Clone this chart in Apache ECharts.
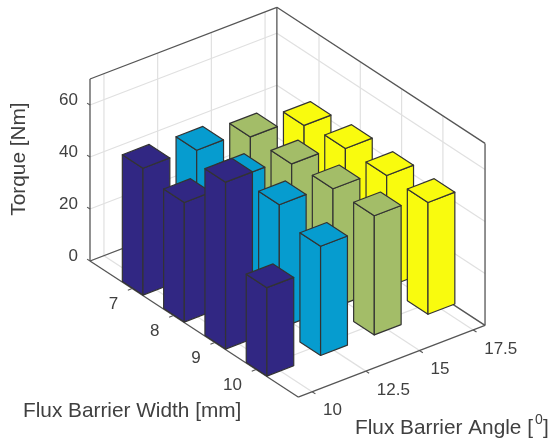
<!DOCTYPE html>
<html><head><meta charset="utf-8">
<style>html,body{margin:0;padding:0;background:#fff}#c{width:551px;height:443px}</style>
<script src="https://cdn.jsdelivr.net/npm/echarts@6/dist/echarts.min.js"></script>
</head><body><div id="c"></div>
<script>
var widths = [7, 8, 9, 10];
var angles = [10, 12.5, 15, 17.5];
var torqueTicks = [0, 20, 40, 60];
var angleLabels = ['10', '12.5', '15', '17.5'];
var torque10 = [48.8, 46, 64.2, 34];
var torque125 = [47.8, 47.7, 47.6, 42];
var torque15 = [45, 45, 45.8, 45.8];
var torque175 = [41.5, 43, 43, 43];
var barColors = ['#312783', '#069ccf', '#a3bd68', '#f9fb0e'];

var wLim = [5.98, 11.02], aLim = [9.35, 18.05], zLim = [0, 70];
var barW = 0.5, barA = 1.25;
// view projection of the 3D box onto the page
var O = [90, 261], vW = [41.3, 27], vA = [21.48, -8.24], vZ = [0, -2.6];
function P(w, a, t) {
  return [O[0] + (w - wLim[0]) * vW[0] + (a - aLim[0]) * vA[0] + t * vZ[0],
          O[1] + (w - wLim[0]) * vW[1] + (a - aLim[0]) * vA[1] + t * vZ[1]];
}
var TXT = '#404040', FONT = '"Liberation Sans", Arial, sans-serif', FS = 17, TS = 20.8;
var GRID = '#e0e0e0', BOX = '#555555', EDGE = '#333333';

var allT = [torque10, torque125, torque15, torque175];
var barData = [];
widths.forEach(function (w, i) {
  angles.forEach(function (a, j) {
    barData.push([w, a, allT[j][i], j, i - j]);
  });
});
barData.sort(function (p, q) { return p[4] - q[4]; });

function seg(api, a, b, color, width) {
  var p = api.coord(a), q = api.coord(b);
  return { type: 'line', shape: { x1: p[0], y1: p[1], x2: q[0], y2: q[1] }, style: { stroke: color, lineWidth: width } };
}
function poly(api, pts, fill) {
  return { type: 'polygon', shape: { points: pts.map(function (p) { return api.coord(p); }) },
    style: { fill: fill, stroke: EDGE, lineWidth: 1.2, lineJoin: 'round' } };
}
function label(api, pt, dx, dy, text, align) {
  var p = api.coord(pt);
  return { type: 'text', x: p[0] + dx, y: p[1] + dy,
    style: { text: text, fill: TXT, font: FS + 'px ' + FONT, align: align, verticalAlign: 'middle' } };
}
function title(api, at, text, size, align, rot) {
  var p = api.coord(at);
  return { type: 'text', x: p[0], y: p[1], rotation: rot || 0,
    style: { text: text, fill: TXT, font: size + 'px ' + FONT, align: align, verticalAlign: 'middle' } };
}

function renderFrame(params, api) {
  var kids = [], w0 = wLim[0], w1 = wLim[1], a0 = aLim[0], a1 = aLim[1], z1 = zLim[1];
  torqueTicks.forEach(function (t) {
    kids.push(seg(api, P(w0, a0, t), P(w0, a1, t), GRID, 1.2));
    kids.push(seg(api, P(w0, a1, t), P(w1, a1, t), GRID, 1.2));
  });
  widths.forEach(function (w) {
    kids.push(seg(api, P(w, a0, 0), P(w, a1, 0), GRID, 1.2));
    kids.push(seg(api, P(w, a1, 0), P(w, a1, z1), GRID, 1.2));
  });
  angles.forEach(function (a) {
    kids.push(seg(api, P(w0, a, 0), P(w1, a, 0), GRID, 1.2));
    kids.push(seg(api, P(w0, a, 0), P(w0, a, z1), GRID, 1.2));
  });
  [[[w0,a0,z1],[w0,a1,z1]], [[w0,a1,z1],[w1,a1,z1]], [[w0,a0,0],[w0,a0,z1]], [[w0,a1,0],[w0,a1,z1]],
   [[w1,a1,0],[w1,a1,z1]], [[w0,a0,0],[w1,a0,0]], [[w1,a0,0],[w1,a1,0]], [[w0,a0,0],[w0,a1,0]], [[w0,a1,0],[w1,a1,0]]
  ].forEach(function (e) { kids.push(seg(api, P(e[0][0], e[0][1], e[0][2]), P(e[1][0], e[1][1], e[1][2]), BOX, 1.3)); });
  torqueTicks.forEach(function (t) {
    kids.push(seg(api, P(w0, a0, t), P(w0 - 0.07, a0, t), BOX, 1.1));
    kids.push(label(api, P(w0, a0, t), -12, -5, String(t), 'right'));
  });
  widths.forEach(function (w) {
    kids.push(seg(api, P(w, a0, 0), P(w, a0 - 0.2, 0), BOX, 1.1));
    kids.push(label(api, P(w, a0, 0), -14, 16, String(w), 'right'));
  });
  angles.forEach(function (a, k) {
    kids.push(seg(api, P(w1, a, 0), P(w1 + 0.08, a, 0), BOX, 1.1));
    kids.push(label(api, P(w1, a, 0), 11, 19, angleLabels[k], 'left'));
  });
  kids.push(title(api, [23, 411], 'Flux Barrier Width [mm]', TS, 'left'));
  kids.push(title(api, [355, 428], 'Flux Barrier Angle [', TS, 'left'));
  kids.push(title(api, [539, 420], '0', 14, 'center'));
  kids.push(title(api, [543, 428], ']', TS, 'left'));
  kids.push(title(api, [19, 159], 'Torque [Nm]', TS, 'center', Math.PI / 2));
  return { type: 'group', children: kids };
}

function renderBar(params, api) {
  var w = api.value(0), a = api.value(1), t = api.value(2), col = barColors[api.value(3)];
  var wl = w - barW / 2, wh = w + barW / 2, al = a - barA / 2, ah = a + barA / 2;
  return { type: 'group', children: [
    poly(api, [P(wl, al, 0), P(wh, al, 0), P(wh, al, t), P(wl, al, t)], col),
    poly(api, [P(wh, al, 0), P(wh, ah, 0), P(wh, ah, t), P(wh, al, t)], col),
    poly(api, [P(wl, al, t), P(wh, al, t), P(wh, ah, t), P(wl, ah, t)], col)
  ] };
}

var chart = echarts.init(document.getElementById('c'));
chart.setOption({
  animation: false,
  backgroundColor: '#fff',
  grid: { left: 0, right: 0, top: 0, bottom: 0 },
  xAxis: { type: 'value', min: 0, max: 551, show: false },
  yAxis: { type: 'value', min: 0, max: 443, inverse: true, show: false },
  series: [
    { type: 'custom', data: [[0, 0]], renderItem: renderFrame, silent: true, z: 1, clip: false },
    { type: 'custom', data: barData, renderItem: renderBar, silent: true, z: 2, clip: false, dimensions: ['width', 'angle', 'torque', 'color', 'depth'] }
  ]
});
</script></body></html>
